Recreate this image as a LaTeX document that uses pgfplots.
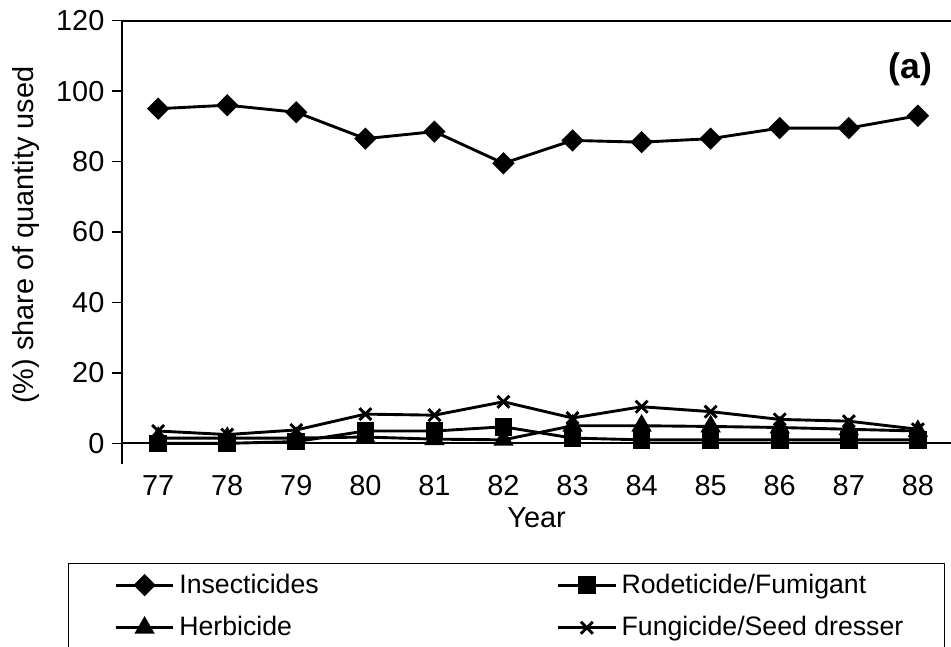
\documentclass[border=0pt]{standalone}
\usepackage{pgfplots}
\pgfplotsset{compat=1.18}
\usepackage{fontspec}
\setmainfont{Liberation Sans}

% shares (%) by year
\pgfplotstableread{
year insect rodent herb fungi
77 95.0 0.0 1.5 3.5
78 96.0 0.0 1.5 2.5
79 94.0 0.5 1.5 3.8
80 86.5 3.5 1.8 8.3
81 88.5 3.5 1.2 8.0
82 79.5 4.7 1.0 11.8
83 86.0 1.5 5.0 7.2
84 85.5 1.0 5.0 10.4
85 86.5 1.0 4.8 9.0
86 89.5 1.0 4.5 6.8
87 89.5 1.0 4.0 6.3
88 93.0 1.0 3.5 4.0
}\shares

\begin{document}
\begin{tikzpicture}
\useasboundingbox (-55pt,-81.7pt) rectangle (372.9pt,209pt);
\begin{axis}[
  scale only axis,
  width=372.9pt, height=199.7pt,
  xmin=76.48, xmax=88.48,
  ymin=-6, ymax=120,
  font=\fontsize{13}{15.6}\selectfont,
  /pgf/number format/assume math mode=true,
  axis y line*=left,
  axis x line*=bottom,
  x axis line style={draw=none},
  y axis line style={line width=0.9pt},
  xtick={77,...,88},
  major x tick style={draw=none},
  xticklabel style={yshift=3pt},
  ytick={0,20,...,120},
  tick align=outside,
  major tick length=4.5pt,
  y tick style={black, line width=0.6pt},
  extra y ticks={0,120},
  extra y tick labels={},
  extra y tick style={grid=major, major grid style={black, line width=0.9pt}},
  xlabel={Year},
  ylabel={(\%) share of quantity used},
  xlabel style={at={(axis description cs:0.5,0)}, anchor=center, yshift=-24pt},
  ylabel style={at={(axis description cs:-0.1159,0.517)}, anchor=center},
  clip=false,
  legend columns=2,
  legend cell align=left,
  legend image code/.code={%
    \path (-4pt,0pt);
    \draw[mark repeat=2,mark phase=2,#1] plot coordinates {(0pt,0pt) (13pt,0pt) (26pt,0pt)};},
  legend style={
    at={(axis description cs:-0.0654,-0.2223)}, anchor=north west,
    draw=black, line width=0.6pt,
    font=\fontsize{12}{14.5}\selectfont,
    inner xsep=16.5pt, inner ysep=2.5pt,
    /tikz/row sep=5pt,
    /tikz/column 2/.style={column sep=101pt},
  },
  every axis plot/.append style={black, line width=1.3pt},
]
\addplot[mark=square*, mark size=2.9pt, mark options={rotate=45, solid}] table[x=year, y=insect] {\shares};
\addlegendentry{Insecticides}
\addplot[mark=square*, mark size=3.3pt] table[x=year, y=rodent] {\shares};
\addlegendentry{Rodeticide/Fumigant}
\addplot[mark=triangle*, mark size=4pt] table[x=year, y=herb] {\shares};
\addlegendentry{Herbicide}
\addplot[mark=x, mark size=3.8pt] table[x=year, y=fungi] {\shares};
\addlegendentry{Fungicide/Seed dresser}
\node[font=\fontsize{16}{19}\selectfont\bfseries] at (axis cs:87.89,106.3) {(a)};
\end{axis}
\end{tikzpicture}
\end{document}
